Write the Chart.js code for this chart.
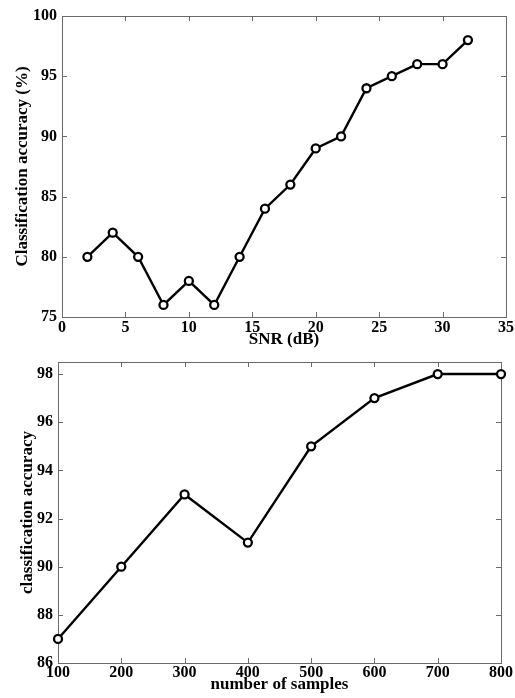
<!DOCTYPE html>
<html>
<head>
<meta charset="utf-8">
<script src="https://cdn.jsdelivr.net/npm/chart.js@4/dist/chart.umd.min.js"></script>
<style>
  html, body { margin: 0; padding: 0; background: #fff; }
  body { width: 515px; height: 698px; position: relative; overflow: hidden; }
  canvas { position: absolute; left: 0; }
  #c1 { top: 0; }
  #c2 { top: 340px; }
</style>
</head>
<body>
<canvas id="c1" width="515" height="360"></canvas>
<canvas id="c2" width="515" height="358"></canvas>
<script>
// ---- Data (top chart) ----
const snrValues = [2, 4, 6, 8, 10, 12, 14, 16, 18, 20, 22, 24, 26, 28, 30, 32];
const snrAccuracy = [80, 82, 80, 76, 78, 76, 80, 84, 86, 89, 90, 94, 95, 96, 96, 98];
const snrTicks = [0, 5, 10, 15, 20, 25, 30, 35];
const snrAccTicks = [75, 80, 85, 90, 95, 100];

// ---- Data (bottom chart) ----
const sampleCounts = [100, 200, 300, 400, 500, 600, 700, 800];
const sampleAccuracy = [87, 90, 93, 91, 95, 97, 98, 98];
const sampleTicks = [100, 200, 300, 400, 500, 600, 700, 800];
const sampleAccTicks = [86, 88, 90, 92, 94, 96, 98];

const FONT = "'Liberation Serif', 'Times New Roman', serif";
const AXIS_COLOR = '#6a6a6a';

const boxTicks = {
  id: 'boxTicks',
  beforeDatasetsDraw(chart) {
    const { ctx, chartArea: a, scales: { x, y } } = chart;
    const L = 5;
    ctx.save();
    ctx.strokeStyle = AXIS_COLOR;
    ctx.lineWidth = 1;
    ctx.strokeRect(Math.round(a.left) + 0.5, Math.round(a.top) + 0.5,
                   Math.round(a.right - a.left), Math.round(a.bottom - a.top));
    ctx.beginPath();
    x.ticks.forEach(t => {
      const px = Math.round(x.getPixelForValue(t.value)) + 0.5;
      ctx.moveTo(px, a.bottom); ctx.lineTo(px, a.bottom - L);
      ctx.moveTo(px, a.top); ctx.lineTo(px, a.top + L);
    });
    y.ticks.forEach(t => {
      const py = Math.round(y.getPixelForValue(t.value)) + 0.5;
      ctx.moveTo(a.left, py); ctx.lineTo(a.left + L, py);
      ctx.moveTo(a.right, py); ctx.lineTo(a.right - L, py);
    });
    ctx.stroke();
    ctx.restore();
  }
};

function fixedTicks(list) {
  return function (scale) {
    scale.ticks = list.map(v => ({ value: v }));
  };
}

function makeChart(id, xs, ys, cfg) {
  const data = xs.map((x, i) => ({ x: x, y: ys[i] }));
  return new Chart(document.getElementById(id), {
    type: 'line',
    data: {
      datasets: [{
        data: data,
        borderColor: '#000',
        borderWidth: 2.4,
        pointRadius: 4,
        pointBorderWidth: 2.3,
        pointBackgroundColor: '#fff',
        pointBorderColor: '#000',
        tension: 0,
        clip: false
      }]
    },
    options: {
      responsive: false,
      devicePixelRatio: 1,
      animation: false,
      events: [],
      layout: { padding: cfg.padding },
      plugins: { legend: { display: false }, tooltip: { enabled: false } },
      scales: {
        x: {
          type: 'linear',
          min: cfg.xMin, max: cfg.xMax,
          afterBuildTicks: fixedTicks(cfg.xTicks),
          grid: { display: false, drawTicks: false },
          border: { display: false },
          ticks: {
            color: '#000', padding: cfg.xTickPad, maxRotation: 0, autoSkip: false,
            font: { family: FONT, weight: 'bold', size: 16 }
          },
          title: {
            display: true, text: cfg.xTitle, color: '#000',
            padding: { top: 0, bottom: cfg.xTitlePad },
            font: { family: FONT, weight: 'bold', size: 17 }
          },
          afterFit(s) { s.height = cfg.xHeight; }
        },
        y: {
          type: 'linear',
          min: cfg.yMin, max: cfg.yMax,
          afterBuildTicks: fixedTicks(cfg.yTicks),
          grid: { display: false, drawTicks: false },
          border: { display: false },
          ticks: {
            color: '#000', padding: cfg.yTickPad, autoSkip: false,
            font: { family: FONT, weight: 'bold', size: 16 }
          },
          title: {
            display: true, text: cfg.yTitle, color: '#000',
            padding: { top: cfg.yTitlePad, bottom: 0 },
            font: { family: FONT, weight: 'bold', size: 17 }
          },
          afterFit(s) { s.width = cfg.yWidth; }
        }
      }
    },
    plugins: [boxTicks]
  });
}

makeChart('c1', snrValues, snrAccuracy, {
  padding: { left: 0, top: 16, right: 8, bottom: 0 },
  xMin: 0, xMax: 35, xTicks: snrTicks,
  yMin: 75, yMax: 100, yTicks: snrAccTicks,
  xTitle: 'SNR (dB)', yTitle: 'Classification accuracy (%)',
  xHeight: 43, yWidth: 62,
  xTickPad: 1, yTickPad: 5, xTitlePad: 10, yTitlePad: 12
});

makeChart('c2', sampleCounts, sampleAccuracy, {
  padding: { left: 0, top: 22, right: 14, bottom: 0 },
  xMin: 100, xMax: 800, xTicks: sampleTicks,
  yMin: 86, yMax: 98.5, yTicks: sampleAccTicks,
  xTitle: 'number of samples', yTitle: 'classification accuracy',
  xHeight: 35, yWidth: 58,
  xTickPad: 0, yTickPad: 5, xTitlePad: 3, yTitlePad: 17
});
</script>
</body>
</html>
